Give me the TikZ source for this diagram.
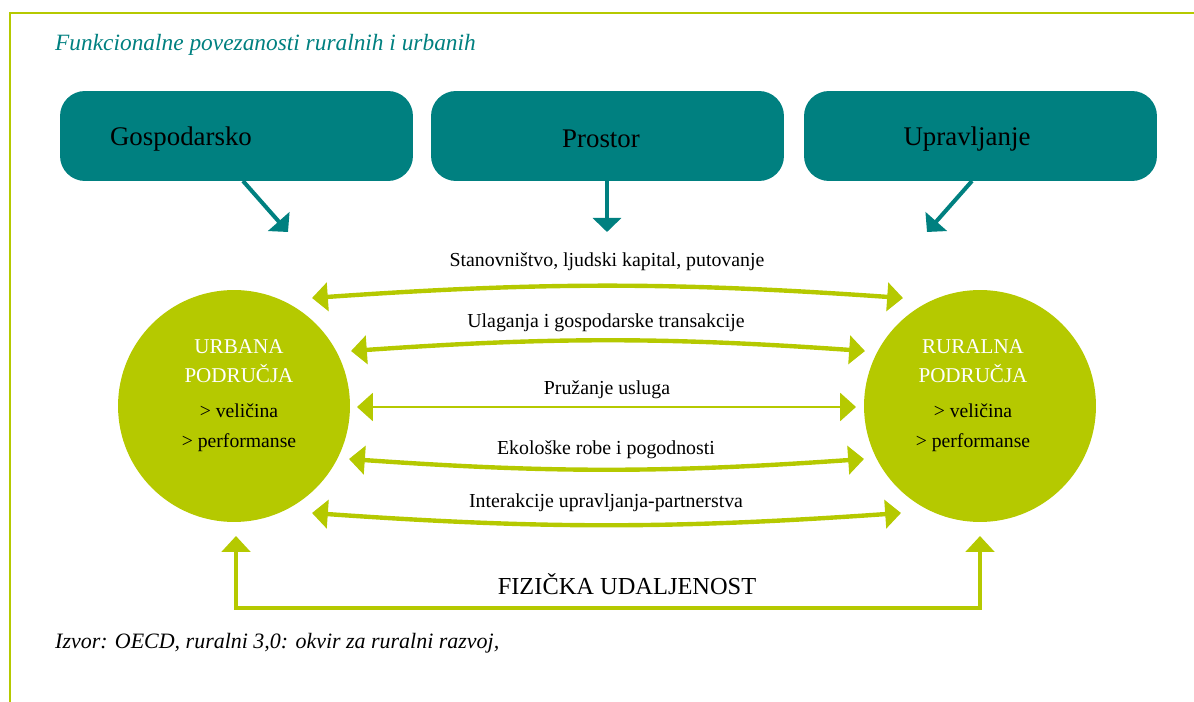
\documentclass[tikz,border=0pt]{standalone}
\usepackage{fontspec}
\setmainfont{Liberation Serif}
\usetikzlibrary{arrows.meta}

\definecolor{petrol}{RGB}{0,128,128}
\definecolor{lime}{RGB}{181,201,0}

\tikzset{
  topic/.style={rectangle,rounded corners=0.5cm,fill=petrol,minimum width=7.06cm,minimum height=1.8cm,inner sep=0pt},
  topiclabel/.style={font=\fontsize{15.3}{18}\selectfont},
  area/.style={circle,fill=lime,minimum size=4.64cm,inner sep=0pt},
  arealabel/.style={align=center,font=\fontsize{11.2}{16}\selectfont},
  linklabel/.style={font=\fontsize{11.3}{13}\selectfont},
  feed/.style={petrol,line width=2.3pt,-{Triangle[length=8pt,width=16pt]}},
  flow/.style={lime,line width=2.5pt,{Triangle[length=9pt,width=16pt]}-{Triangle[length=9pt,width=16pt]}},
  thinflow/.style={flow,line width=0.9pt},
}
\newcommand{\areaname}[1]{{\fontsize{12}{16}\selectfont\color{white}#1}}

\begin{document}
\begin{tikzpicture}[x=0.02cm,y=-0.02cm]
\useasboundingbox (0,0) rectangle (1194,702);
\draw[lime,line width=1.7pt] (10,702) -- (10,13) -- (1194,13);

\node[anchor=west,text=petrol,font=\fontsize{13.3}{16}\selectfont\itshape] (title) at (49,45) {Funkcionalne povezanosti ruralnih i urbanih};

% gornji okviri
\node[topic] (eco) at (236.5,136) {};
\node[topic] (space) at (607.5,136) {};
\node[topic] (gov) at (980.5,136) {};
\node[topiclabel] (ecotext) at (181,139) {Gospodarsko};
\node[topiclabel] (spacetext) at (601,139) {Prostor};
\node[topiclabel] (govtext) at (967,139) {Upravljanje};

\coordinate (e1) at (243,181);
\coordinate (e2) at (288,232);
\coordinate (s1) at (607,181);
\coordinate (s2) at (607,232);
\coordinate (g1) at (972,181);
\coordinate (g2) at (927,232);
\draw[feed] (e1) -- (e2);
\draw[feed] (s1) -- (s2);
\draw[feed] (g1) -- (g2);

% podrucja
\node[area] (urban) at (234,406) {};
\node[area] (rural) at (980,406) {};
\node[arealabel] (urbantext) at (239,396) {\areaname{URBANA}\\\areaname{PODRUČJA}\\[4.4pt] > veličina\\[1pt] > performanse};
\node[arealabel] (ruraltext) at (973,396) {\areaname{RURALNA}\\\areaname{PODRUČJA}\\[4.4pt] > veličina\\[1pt] > performanse};

% veze
\coordinate (a1) at (312,298);
\coordinate (b1) at (903,298);
\coordinate (a2) at (351,351);
\coordinate (b2) at (865,351);
\coordinate (a3) at (357,407);
\coordinate (b3) at (856,407);
\coordinate (a4) at (349,459);
\coordinate (b4) at (864,459);
\coordinate (a5) at (312,513);
\coordinate (b5) at (901,513);
\draw[flow] (a1) to[bend left=4] (b1);
\draw[flow] (a2) to[bend left=4] (b2);
\draw[thinflow] (a3) -- (b3);
\draw[flow] (a4) to[bend right=4] (b4);
\draw[flow] (a5) to[bend right=4] (b5);

\node[linklabel] (l1) at (607,262) {Stanovništvo, ljudski kapital, putovanje};
\node[linklabel] (l2) at (606,323) {Ulaganja i gospodarske transakcije};
\node[linklabel] (l3) at (607,390) {Pružanje usluga};
\node[linklabel] (l4) at (606,450) {Ekološke robe i pogodnosti};
\node[linklabel] (l5) at (606,503) {Interakcije upravljanja-partnerstva};

% udaljenost
\coordinate (ubot) at (236,536);
\coordinate (rbot) at (980,536);
\draw[flow,line width=2.3pt] (ubot) -- ++(0,72) -| (rbot);
\node[font=\fontsize{13.9}{16}\selectfont] (dist) at (627,584) {FIZIČKA UDALJENOST};

\node[anchor=west,font=\fontsize{12.5}{15}\selectfont\itshape] (source) at (49,643) {Izvor: OECD, ruralni 3,0: okvir za ruralni razvoj,};
\end{tikzpicture}
\end{document}
